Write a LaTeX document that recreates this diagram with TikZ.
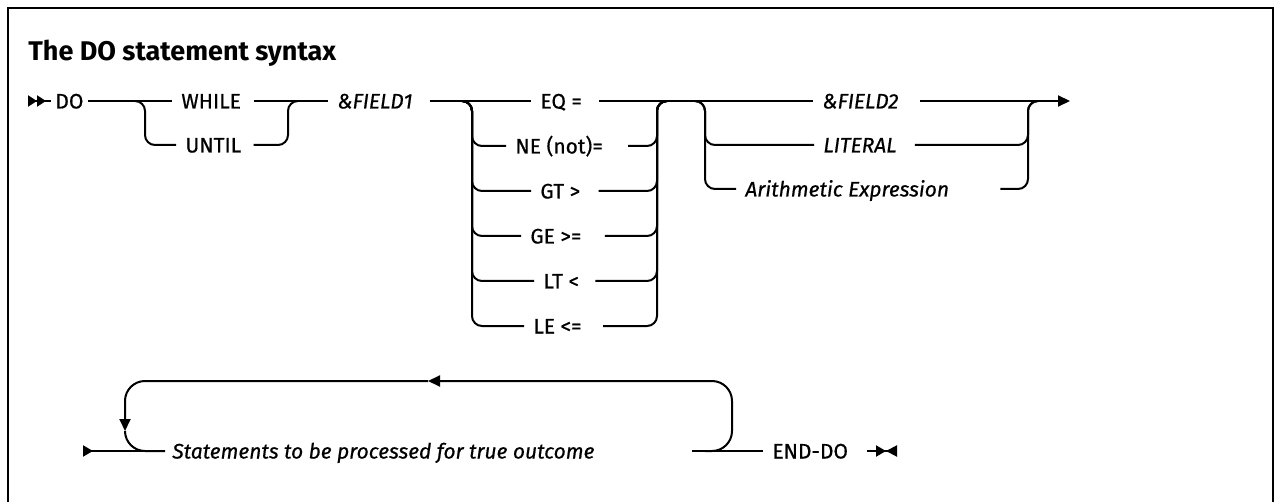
\documentclass[tikz,border=0pt]{standalone}
\usepackage{fontspec}
\setmainfont{Fira Sans}
\newfontfamily\railfont{Fira Sans}[FakeBold=0.6]
\usetikzlibrary{arrows.meta, positioning, calc}

\begin{document}
\begin{tikzpicture}[
    x=0.5pt, y=-0.5pt,
    font=\railfont\fontsize{10.5}{12}\selectfont,
    lbl/.style={anchor=west, inner xsep=4.5pt, inner ysep=0pt, text height=8pt, text depth=0.5pt},
    word/.style={lbl, font=\railfont\fontsize{10.5}{12}\selectfont\itshape},
    pad/.style={execute at end node={\hspace*{#1}}},
    rail/.style={line width=1pt, rounded corners=5pt},
    loop/.style={line width=1pt, rounded corners=10pt},
    frame/.style={line width=1.2pt}
  ]
    \useasboundingbox (0,0) rectangle (1274,502);
    \draw[frame] (8,502) -- (8,8) -- (1273,8) -- (1273,502);
    \node[anchor=west, inner xsep=0pt, font=\fontsize{13.5}{15}\selectfont\bfseries] (title) at (28,53) {The DO statement syntax};
    \coordinate (s1) at (28,101);
    \node[lbl, inner xsep=2pt] (do) at (51,101) {DO};
    \node[lbl, pad=2pt] (while) at (172,101) {WHILE};
    \node[lbl, pad=1.5pt] (until) at (176,145) {UNTIL};
    \coordinate (b1) at (145,101);
    \coordinate (b2) at (288,101);
    \node[word, pad=4pt] (fld1) at (328,101) {\&FIELD1};
    \node[lbl, pad=4pt] (eq) at (531,101) {EQ =};
    \node[lbl, pad=8pt] (ne) at (506,146) {NE (not)=};
    \node[lbl, pad=4.5pt] (gt) at (531,191) {GT >};
    \node[lbl, pad=7pt] (ge) at (521,236) {GE >=};
    \node[lbl, pad=3.5pt] (lt) at (534,281) {LT <};
    \node[lbl, pad=6pt] (le) at (524,326) {LE <=};
    \coordinate (o1) at (472,101);
    \coordinate (o2) at (657,101);
    \node[word, pad=6pt] (fld2) at (813,101) {\&FIELD2};
    \node[word, pad=4.5pt] (lit) at (814,145) {LITERAL};
    \node[word, pad=21pt] (arith) at (736,189) {Arithmetic Expression};
    \coordinate (v1) at (705,101);
    \coordinate (v2) at (1028,101);
    \coordinate (e1) at (1070,101);
    \coordinate (s2) at (83,451);
    \node[word] (stmt) at (163,451) {Statements to be processed for true outcome};
    \coordinate (sret) at (692,451);
    \node[lbl, pad=5pt] (enddo) at (763,451) {END-DO};
    \coordinate (fin) at (897,451);
    \coordinate (lin) at (705,451);
    \coordinate (lpr) at (732,381);
    \coordinate (arl) at (428,381);
    \coordinate (ard) at (125,431);
    \coordinate (lout) at (165,451);
    \draw[rail, {Triangle[reversed, length=4.5pt, width=5.5pt]Triangle[reversed, length=4.5pt, width=5.5pt]}-] (s1) -- (do.west);
    \draw[rail] (do.east) -- (while.west);
    \draw[rail] ([xshift=-5pt]b1) -- (b1) |- (until.west);
    \draw[rail] (until.east) -| (b2) -- ([xshift=5pt]b2);
    \draw[rail] (while.east) -- (fld1.west);
    \draw[rail] (fld1.east) -- (eq.west);
    \foreach \n in {ne, gt, ge, lt, le} {
      \draw[rail] ([xshift=-5pt]o1) -- (o1) |- (\n.west);
      \draw[rail] (\n.east) -| (o2) -- ([xshift=5pt]o2);
    }
    \draw[rail] (eq.east) -- (fld2.west);
    \foreach \n in {lit, arith} {
      \draw[rail] ([xshift=-5pt]v1) -- (v1) |- (\n.west);
      \draw[rail] (\n.east) -| (v2) -- ([xshift=5pt]v2);
    }
    \draw[rail, -{Triangle[length=6pt, width=5.5pt]}] (fld2.east) -- (e1);
    \draw[rail, {Triangle[reversed, length=5pt, width=5.5pt]}-] (s2) -- (stmt.west);
    \draw[rail] (sret) -- (enddo.west);
    \draw[rail, -{Triangle[length=5pt, width=5.5pt]Triangle[reversed, length=5.5pt, width=5.5pt]}] (enddo.east) -- (fin);
    \draw[loop, -{Triangle[length=6pt, width=5.5pt]}] (lin) -| (lpr) -- (arl);
    \draw[loop, -{Triangle[length=6pt, width=5.5pt]}] (arl) -| (ard);
    \draw[loop] (ard) |- (lout);
\end{tikzpicture}
\end{document}
